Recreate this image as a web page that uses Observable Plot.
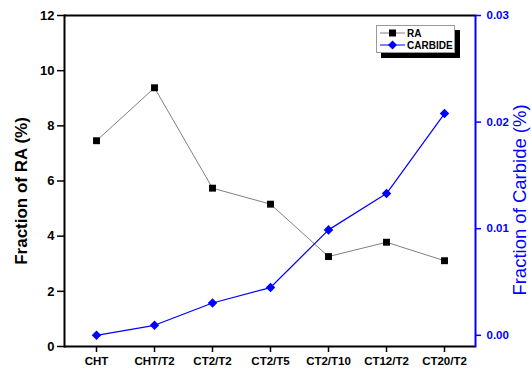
<!DOCTYPE html>
<html>
<head>
<meta charset="utf-8">
<script src="https://cdn.jsdelivr.net/npm/d3@7"></script>
<script src="https://cdn.jsdelivr.net/npm/@observablehq/plot@0.6"></script>
<style>
  html, body { margin: 0; padding: 0; background: #fff; }
  #wrap { position: relative; width: 531px; height: 374px; font-family: "Liberation Sans", Arial, sans-serif; }
  #legend { position: absolute; left: 376px; top: 25px; width: 77px; height: 26px; background: #fff;
            border: 1px solid #999; box-shadow: 5px 5px 0 #000; font-size: 10px; font-weight: bold; }
  .row { position: absolute; left: 3px; height: 12px; display: flex; align-items: center; }
  .row span { margin-left: 2px; }
</style>
</head>
<body>
<div id="wrap"></div>
<script>
const categories = ["CHT", "CHT/T2", "CT2/T2", "CT2/T5", "CT2/T10", "CT12/T2", "CT20/T2"];
const raValues = [7.46, 9.38, 5.74, 5.16, 3.26, 3.78, 3.11];
const carbideValues = [0.0, 0.00094, 0.00303, 0.00448, 0.00989, 0.0133, 0.0208];
const leftTicks = [0, 2, 4, 6, 8, 10, 12];
const rightTicks = [0.00, 0.01, 0.02, 0.03];
const leftDomain = [0, 12];
const rightDomain = [-0.00105, 0.03];

const toLeft = c => (c - rightDomain[0]) / (rightDomain[1] - rightDomain[0]) * (leftDomain[1] - leftDomain[0]) + leftDomain[0];
const fromLeft = v => (v - leftDomain[0]) / (leftDomain[1] - leftDomain[0]) * (rightDomain[1] - rightDomain[0]) + rightDomain[0];

const ra = categories.map((c, i) => ({cat: c, v: raValues[i]}));
const carb = categories.map((c, i) => ({cat: c, v: toLeft(carbideValues[i])}));

const blue = "#0000ff";

const chart = Plot.plot({
  width: 531,
  height: 374,
  marginLeft: 64,
  marginRight: 56,
  marginTop: 15,
  marginBottom: 28,
  style: {fontFamily: "'Liberation Sans', Arial, sans-serif", background: "white", color: "black"},
  x: {type: "point", domain: categories, padding: 0.5},
  y: {domain: leftDomain},
  marks: [
    Plot.ruleY([leftDomain[1]], {stroke: "black", strokeWidth: 2}),
    Plot.ruleY([leftDomain[0]], {stroke: "black", strokeWidth: 2}),
    Plot.frame({anchor: "left", stroke: "black", strokeWidth: 2}),
    Plot.frame({anchor: "right", stroke: blue, strokeWidth: 2}),
    Plot.axisX({tickSize: 6, tickPadding: 4, fontSize: 11.5, fontWeight: "bold", label: null, strokeWidth: 1.5}),
    Plot.axisY({anchor: "left", ticks: leftTicks, tickSize: 7, tickPadding: 3, fontSize: 13, fontWeight: "bold", label: null, strokeWidth: 1.5}),
    Plot.axisY({anchor: "right", ticks: rightTicks.map(toLeft), tickFormat: d => fromLeft(d).toFixed(2),
                tickSize: 5, tickPadding: 6, fontSize: 11.5, fontWeight: "bold", label: null,
                stroke: blue, fill: blue, strokeWidth: 1.5}),
    Plot.text(["Fraction of RA (%)"], {frameAnchor: "left", textAnchor: "middle", dx: -43, dy: 10, rotate: -90, fontSize: 17, fontWeight: "bold", fill: "black"}),
    Plot.text(["Fraction of Carbide (%)"], {frameAnchor: "right", textAnchor: "middle", dx: 45, dy: 19, rotate: -90, fontSize: 18.5, fill: blue}),
    Plot.line(ra, {x: "cat", y: "v", stroke: "#808080", strokeWidth: 1}),
    Plot.dot(ra, {x: "cat", y: "v", symbol: "square", r: 3.9, fill: "black", stroke: "none"}),
    Plot.line(carb, {x: "cat", y: "v", stroke: blue, strokeWidth: 1.2}),
    Plot.dot(carb, {x: "cat", y: "v", symbol: "diamond2", r: 4.3, fill: blue, stroke: "none"})
  ]
});
const wrap = document.getElementById("wrap");
wrap.appendChild(chart);

const legend = document.createElement("div");
legend.id = "legend";
function row(top, color, lineColor, shape, name) {
  const r = document.createElement("div");
  r.className = "row";
  r.style.top = top + "px";
  const marker = shape === "square"
    ? `<rect x="9" y="2.5" width="7" height="7" fill="${color}"/>`
    : `<path d="M12.5 1.5 L17 6 L12.5 10.5 L8 6 Z" fill="${color}"/>`;
  r.innerHTML = `<svg width="25" height="12"><line x1="0" y1="6" x2="25" y2="6" stroke="${lineColor}" stroke-width="1"/>${marker}</svg><span>${name}</span>`;
  legend.appendChild(r);
}
row(1, "black", "#808080", "square", "RA");
row(13, blue, blue, "diamond", "CARBIDE");
wrap.appendChild(legend);
</script>
</body>
</html>
